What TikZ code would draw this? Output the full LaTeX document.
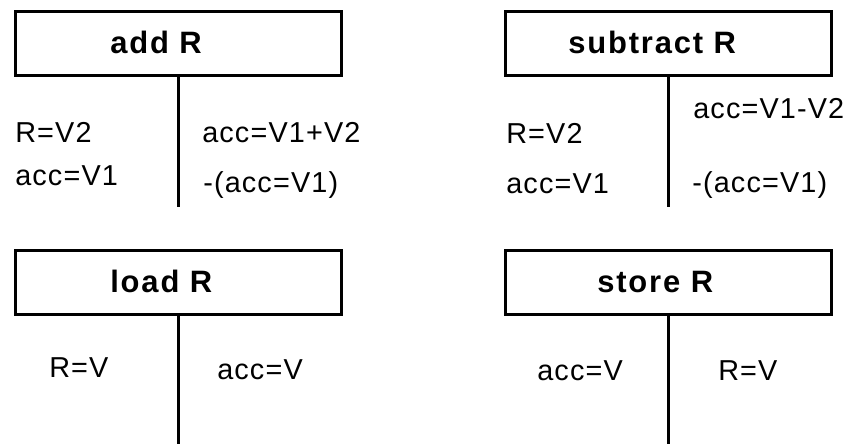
\documentclass[tikz,border=0pt]{standalone}
\usepackage{fontspec}
\setmainfont{Liberation Sans}
\newfontfamily\opfont[LetterSpace=4]{Liberation Sans}
\newfontfamily\titlefont[LetterSpace=6]{Liberation Sans}
\usetikzlibrary{positioning}
\tikzset{
  opbox/.style={rectangle,draw=black,line width=2.1pt,minimum width=8.15cm,minimum height=1.6cm,inner sep=0pt},
  optitle/.style={anchor=base west,inner sep=0pt,font=\titlefont\fontsize{22pt}{25pt}\selectfont\bfseries},
  effect/.style={anchor=base west,inner sep=0pt,font=\opfont\fontsize{20.5pt}{23pt}\selectfont},
  stem/.style={line width=2.1pt,black}
}
\begin{document}
\begin{tikzpicture}
  \useasboundingbox (0,0) rectangle (21.225,-11.1);

  % add R
  \node[opbox] (addbox) at (4.4625,-1.0875) {};
  \node[optitle] (addname) at (2.75,-1.325) {add R};
  \coordinate (addend) at (4.4625,-5.175);
  \draw[stem] (addbox.south) -- (addend);
  \node[effect] (addpre1) at (0.375,-3.55) {R=V2};
  \node[effect] (addpre2) at (0.375,-4.625) {acc=V1};
  \node[effect] (addpost1) at (5.05,-3.55) {acc=V1+V2};
  \node[effect] (addpost2) at (5.075,-4.8) {-(acc=V1)};

  % subtract R
  \node[opbox] (subbox) at (16.7125,-1.0875) {};
  \node[optitle] (subname) at (14.2,-1.325) {subtract R};
  \coordinate (subend) at (16.7125,-5.175);
  \draw[stem] (subbox.south) -- (subend);
  \node[effect] (subpre1) at (12.65,-3.575) {R=V2};
  \node[effect] (subpre2) at (12.65,-4.825) {acc=V1};
  \node[effect] (subpost1) at (17.325,-2.95) {acc=V1-V2};
  \node[effect] (subpost2) at (17.3,-4.8) {-(acc=V1)};

  % load R
  \node[opbox] (loadbox) at (4.4625,-7.0625) {};
  \node[optitle] (loadname) at (2.75,-7.3) {load R};
  \coordinate (loadend) at (4.4625,-11.1);
  \draw[stem] (loadbox.south) -- (loadend);
  \node[effect] (loadpre) at (1.225,-9.425) {R=V};
  \node[effect] (loadpost) at (5.425,-9.475) {acc=V};

  % store R
  \node[opbox] (storebox) at (16.7125,-7.0625) {};
  \node[optitle] (storename) at (14.925,-7.3) {store R};
  \coordinate (storeend) at (16.7125,-11.1);
  \draw[stem] (storebox.south) -- (storeend);
  \node[effect] (storepre) at (13.425,-9.5) {acc=V};
  \node[effect] (storepost) at (17.95,-9.5) {R=V};
\end{tikzpicture}
\end{document}
